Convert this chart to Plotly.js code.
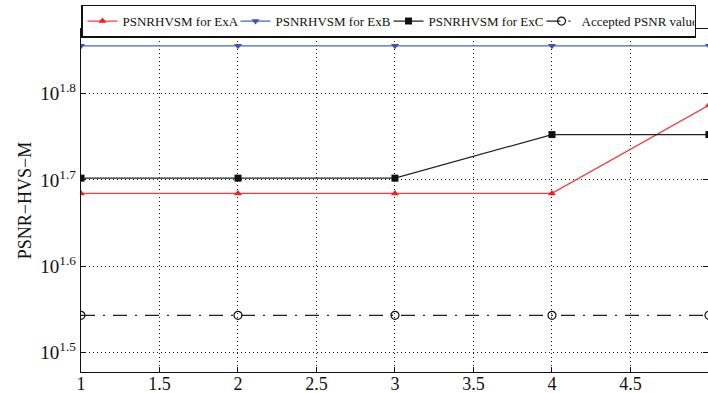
<!DOCTYPE html>
<html>
<head>
<meta charset="utf-8">
<script src="https://cdn.plot.ly/plotly-3.0.1.min.js"></script>
<style>html,body{margin:0;padding:0;background:#fff;}#chart{width:708px;height:393px;}</style>
</head>
<body>
<div id="chart"></div>
<script>
const xValues = [1, 2, 3, 4, 5];
const exA = [48.34, 48.34, 48.34, 48.34, 61.2];
const exB = [71.7, 71.7, 71.7, 71.7, 71.7];
const exC = [50.35, 50.35, 50.35, 56.57, 56.57];
const accepted = [34.9, 34.9, 34.9, 34.9, 34.9];
const seriesNames = ['PSNRHVSM for ExA', 'PSNRHVSM for ExB', 'PSNRHVSM for ExC', 'Accepted PSNR value'];
const xTickVals = [1, 1.5, 2, 2.5, 3, 3.5, 4, 4.5, 5];
const yTickExponents = [1.5, 1.6, 1.7, 1.8];
const yTickVals = yTickExponents.map(e => Math.pow(10, e));
const yTickText = yTickExponents.map(e => '10<sup>' + e.toFixed(1) + '</sup>');

const font = 'Liberation Serif, Times New Roman, serif';
const traces = [
  {x: xValues, y: exA, name: seriesNames[0], mode: 'lines+markers',
   line: {color: '#f03c3c', width: 1.3}, marker: {symbol: 'triangle-up', size: 7, color: '#f01e1e'}},
  {x: xValues, y: exB, name: seriesNames[1], mode: 'lines+markers',
   line: {color: '#4a66b4', width: 1.3}, marker: {symbol: 'triangle-down', size: 7, color: '#3a56a8'}},
  {x: xValues, y: exC, name: seriesNames[2], mode: 'lines+markers',
   line: {color: '#222222', width: 1.2}, marker: {symbol: 'square', size: 7, color: '#111111'}},
  {x: xValues, y: accepted, name: seriesNames[3], mode: 'lines+markers',
   line: {color: '#222222', width: 1.2, dash: '14px,8px,2px,8px'},
   marker: {symbol: 'circle-open', size: 8, color: '#111111', line: {width: 1.2}}}
];

const layout = {
  width: 708, height: 393,
  margin: {l: 81, r: 0, t: 29, b: 21, autoexpand: false},
  paper_bgcolor: '#fff', plot_bgcolor: '#fff',
  font: {family: font, color: '#111', size: 16},
  showlegend: true,
  legend: {
    orientation: 'h', xref: 'paper', yref: 'paper',
    x: 0, y: 1.071, xanchor: 'left', yanchor: 'top',
    bgcolor: '#fff', bordercolor: '#111', borderwidth: 1.5,
    font: {family: font, size: 13, color: '#111'},
    itemwidth: 30, tracegroupgap: 0,
    entrywidth: 108, entrywidthmode: 'pixels'
  },
  xaxis: {
    range: [1, 4.994],
    tickvals: xTickVals,
    showline: true, linecolor: '#111', linewidth: 1.3, mirror: 'ticks',
    ticks: 'inside', ticklen: 5, tickcolor: '#111',
    showgrid: true, gridcolor: '#111', griddash: '1px,3px', gridwidth: 1,
    zeroline: false,
    ticklabelstandoff: -5,
    tickfont: {family: font, size: 18, color: '#111'}
  },
  yaxis: {
    type: 'log', range: [Math.log10(30), Math.log10(75)],
    tickvals: yTickVals, ticktext: yTickText,
    showline: true, linecolor: '#111', linewidth: 1.3, mirror: 'ticks',
    ticks: 'inside', ticklen: 5, tickcolor: '#111',
    showgrid: true, gridcolor: '#111', griddash: '1px,3px', gridwidth: 1,
    zeroline: false,
    tickfont: {family: font, size: 19, color: '#111'},
    title: {text: 'PSNR−HVS−M', font: {family: font, size: 18, color: '#111'}, standoff: 4}
  }
};

Plotly.newPlot('chart', traces, layout, {displayModeBar: false, staticPlot: true});
</script>
</body>
</html>
